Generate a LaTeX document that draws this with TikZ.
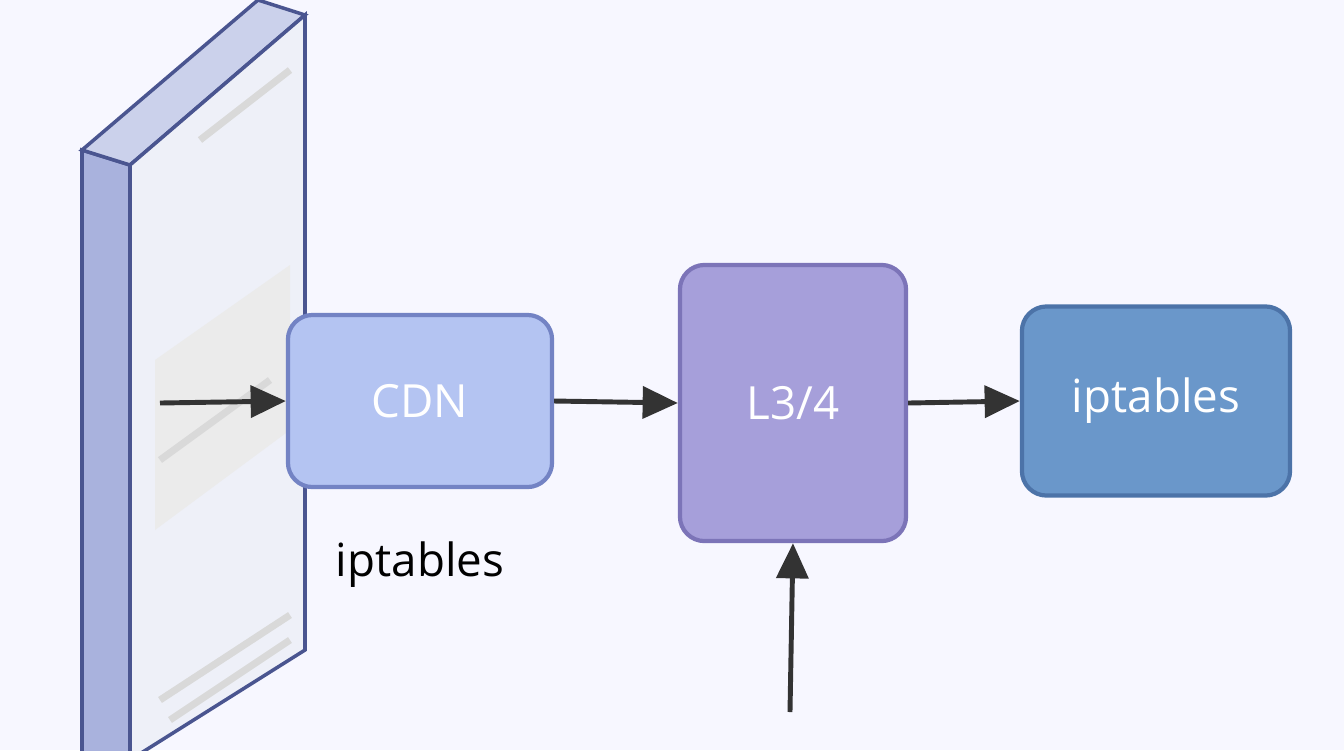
\documentclass[tikz,border=0pt]{standalone}
\usepackage{fontspec}
\setmainfont{Open Sans}
\usetikzlibrary{arrows.meta,positioning}
\definecolor{wallline}{HTML}{4A5590}
\definecolor{wallside}{HTML}{A9B2DD}
\definecolor{wallfront}{HTML}{EEF0F8}
\definecolor{cdnfill}{HTML}{B4C4F2}
\definecolor{cdnline}{HTML}{7383C4}
\definecolor{lfill}{HTML}{A69FDA}
\definecolor{lline}{HTML}{7C74B8}
\definecolor{ipfill}{HTML}{6A97CA}
\definecolor{ipline}{HTML}{4C73A8}
\tikzset{
  box/.style={draw, line width=1.2pt, rounded corners=7pt, text=white, font=\fontsize{13}{15}\selectfont},
  flow/.style={-{Triangle[length=10pt,width=9pt]}, line width=1.4pt, black!80}
}
\begin{document}
\begin{tikzpicture}[x=0.01cm,y=-0.01cm]
\useasboundingbox[fill=white!97!blue] (0,0) rectangle (1344,750);
% wall
\fill[wallside, draw=wallline, line width=1pt] (82,150) -- (130,165) -- (130,760) -- (82,760) -- cycle;
\fill[wallside!60, draw=wallline, line width=1pt] (82,150) -- (258,0) -- (305,15) -- (130,165) -- cycle;
\fill[wallfront, draw=wallline, line width=1pt] (130,165) -- (305,15) -- (305,650) -- (130,760) -- cycle;
\fill[black!8] (155,360) -- (290,265) -- (290,430) -- (155,530) -- cycle;
\draw[black!15, line width=2pt] (200,140) -- (290,70);
\draw[black!15, line width=2pt] (160,460) -- (270,380);
\draw[black!15, line width=2pt] (160,700) -- (290,615);
\draw[black!15, line width=2pt] (170,720) -- (290,640);
% boxes
\node[box, fill=cdnfill, draw=cdnline, minimum width=264\pgflinewidth, minimum width=2.64cm, minimum height=1.72cm] (cdn) at (420,401) {CDN};
\node[box, fill=lfill, draw=lline, minimum width=2.26cm, minimum height=2.76cm] (l34) at (793,403) {L3/4};
\node[box, fill=ipfill, draw=ipline, minimum width=2.68cm, minimum height=1.89cm] (ipt) at (1156,401) {iptables};
\node[font=\fontsize{13}{15}\selectfont, below=0.4cm of cdn] (iplabel) {iptables};
\coordinate (in) at (160,403);
\coordinate (up) at (790,712);
% arrows
\draw[flow] (in) -- (cdn.west);
\draw[flow] (cdn.east) -- (l34.west);
\draw[flow] (l34.east) -- (ipt.west);
\draw[flow] (up) -- (l34.south);
\end{tikzpicture}
\end{document}
